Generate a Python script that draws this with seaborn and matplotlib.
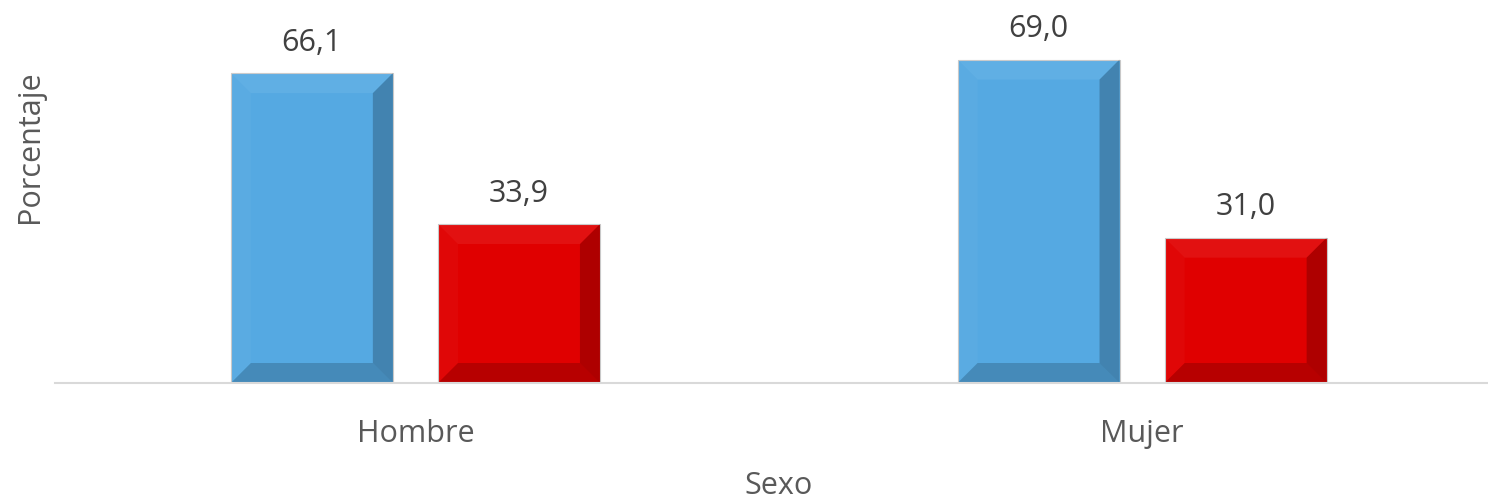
import matplotlib
matplotlib.use("Agg")
import matplotlib.pyplot as plt
from matplotlib.patches import Polygon
import seaborn as sns
import pandas as pd

categories = ["Hombre", "Mujer"]
series = ["Serie 1", "Serie 2"]
serie1_values = [66.1, 69.0]
serie2_values = [33.9, 31.0]
value_labels_1 = ["66,1", "69,0"]
value_labels_2 = ["33,9", "31,0"]

colors = ["#55A9E2", "#E00000"]

df = pd.DataFrame({
    "Sexo": categories * 2,
    "Porcentaje": serie1_values + serie2_values,
    "Serie": [series[0]] * 2 + [series[1]] * 2,
})

sns.set_style("white")
plt.rcParams["font.family"] = ["Open Sans", "DejaVu Sans"]

W, H = 1488, 500
fig = plt.figure(figsize=(W / 100, H / 100), dpi=100)
ax = fig.add_axes([55 / W, 117 / H, 1 - 55 / W, 383 / H])

sns.barplot(data=df, x="Sexo", y="Porcentaje", hue="Serie", palette=colors,
            width=0.57, gap=0.218, saturation=1, legend=False, ax=ax,
            edgecolor="#C8C8C8", linewidth=0.8)

ax.set_xlim(-0.496, 1.476)
ax.set_ylim(0, 81.7)

# Bevel effect derived from the bar patches
bev_x = 20 / 726.5
bev_y = 20 / 4.69
for p in ax.patches:
    x0 = p.get_x()
    w = p.get_width()
    h = p.get_height()
    x1 = x0 + w
    y0, y1 = 0, h
    z = p.get_zorder() + 0.1
    top = Polygon([(x0, y1), (x1, y1), (x1 - bev_x, y1 - bev_y), (x0 + bev_x, y1 - bev_y)],
                  closed=True, facecolor="white", alpha=0.07, lw=0, zorder=z)
    left = Polygon([(x0, y0), (x0, y1), (x0 + bev_x, y1 - bev_y), (x0 + bev_x, y0 + bev_y)],
                   closed=True, facecolor="white", alpha=0.03, lw=0, zorder=z)
    right = Polygon([(x1, y0), (x1, y1), (x1 - bev_x, y1 - bev_y), (x1 - bev_x, y0 + bev_y)],
                    closed=True, facecolor="black", alpha=0.22, lw=0, zorder=z)
    bottom = Polygon([(x0, y0), (x1, y0), (x1 - bev_x, y0 + bev_y), (x0 + bev_x, y0 + bev_y)],
                     closed=True, facecolor="black", alpha=0.18, lw=0, zorder=z)
    for poly in (top, left, right, bottom):
        ax.add_patch(poly)

# Value labels
for container, labels in zip(ax.containers, [value_labels_1, value_labels_2]):
    for rect, lab in zip(container, labels):
        ax.annotate(lab, (rect.get_x() + rect.get_width() / 2, rect.get_height()),
                    xytext=(0, 22), textcoords="offset points",
                    ha="center", va="center", fontsize=22, color="#404040")

for s in ["top", "right", "left"]:
    ax.spines[s].set_visible(False)
ax.spines["bottom"].set_color("#D9D9D9")
ax.spines["bottom"].set_linewidth(1.5)

ax.set_yticks([])
ax.tick_params(axis="x", length=0, pad=26, labelsize=22, labelcolor="#595959")
ax.set_xlabel("Sexo", fontsize=22, color="#595959", va="center")
ax.set_ylabel("Porcentaje", fontsize=22, color="#595959", va="center")
ax.xaxis.set_label_coords(0.505, -0.268)
ax.yaxis.set_label_coords(-0.0174, 0.618)

fig.savefig("out.png", dpi=100)
